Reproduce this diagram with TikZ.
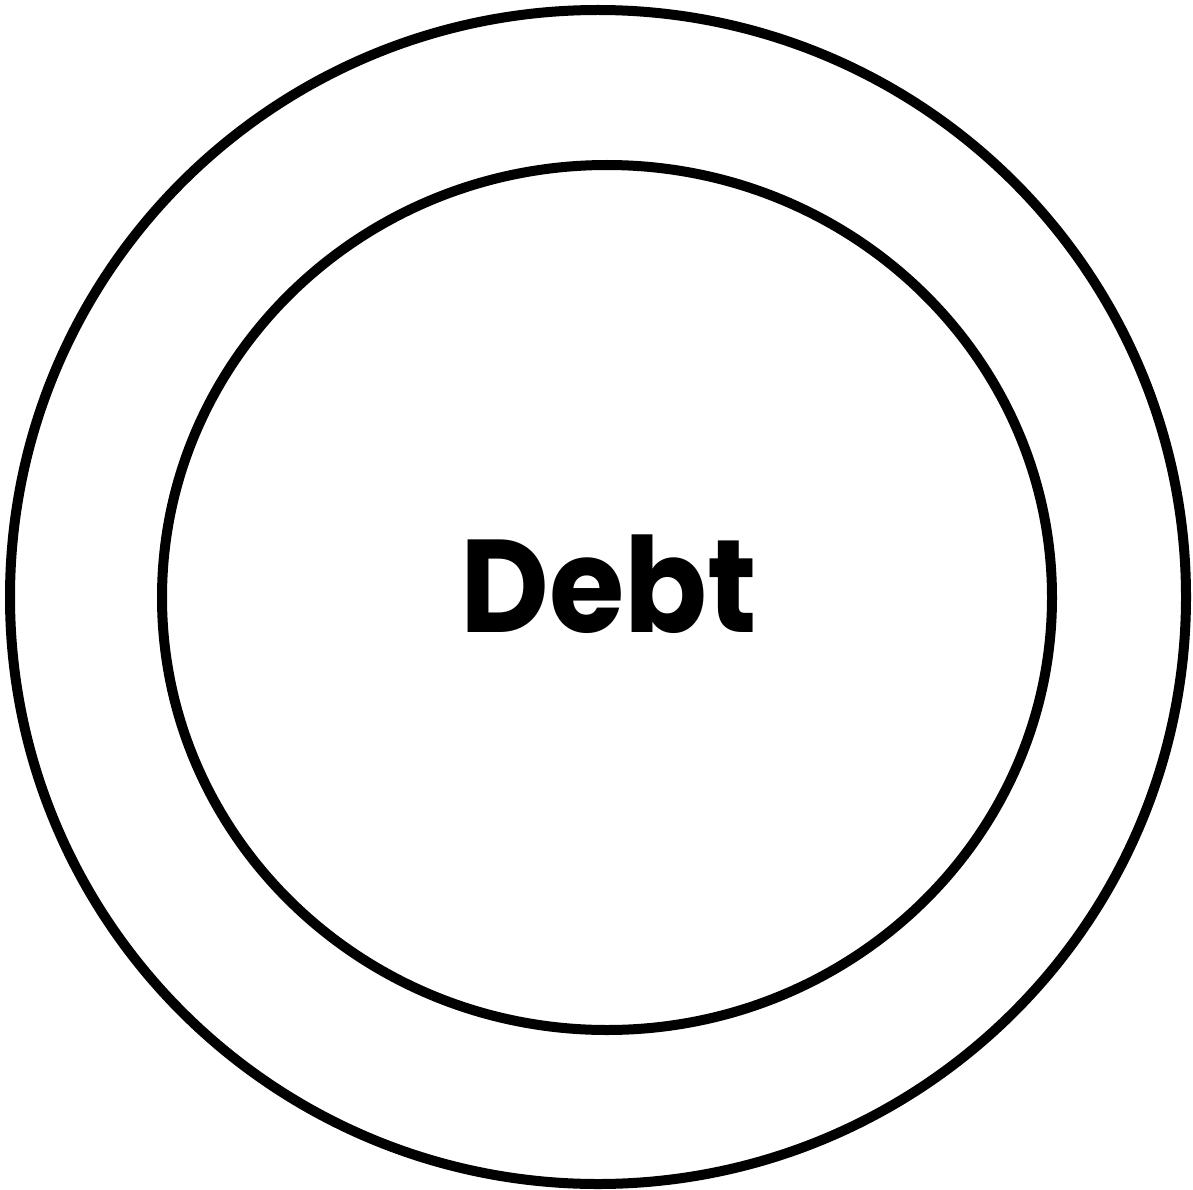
\documentclass[tikz,border=0pt]{standalone}
\usepackage{fontspec}
\usepackage{tikz}
\newfontfamily\debtfont{Poppins}
\tikzset{
  ring/.style={draw=black, line width=10pt},
  label/.style={font=\debtfont\bfseries\fontsize{132}{132}\selectfont, inner sep=0pt, anchor=base, xscale=0.925}
}

\begin{document}
\begin{tikzpicture}[x=1pt, y=-1pt]
\useasboundingbox (0,0) rectangle (1193,1190);

% outer and inner rings
\draw[ring] (598,597) ellipse [x radius=588, y radius=587];
\draw[ring] (607,597.5) ellipse [x radius=445, y radius=432.5];

\node[label] (debt) at (609,632) {Debt};

\end{tikzpicture}
\end{document}
